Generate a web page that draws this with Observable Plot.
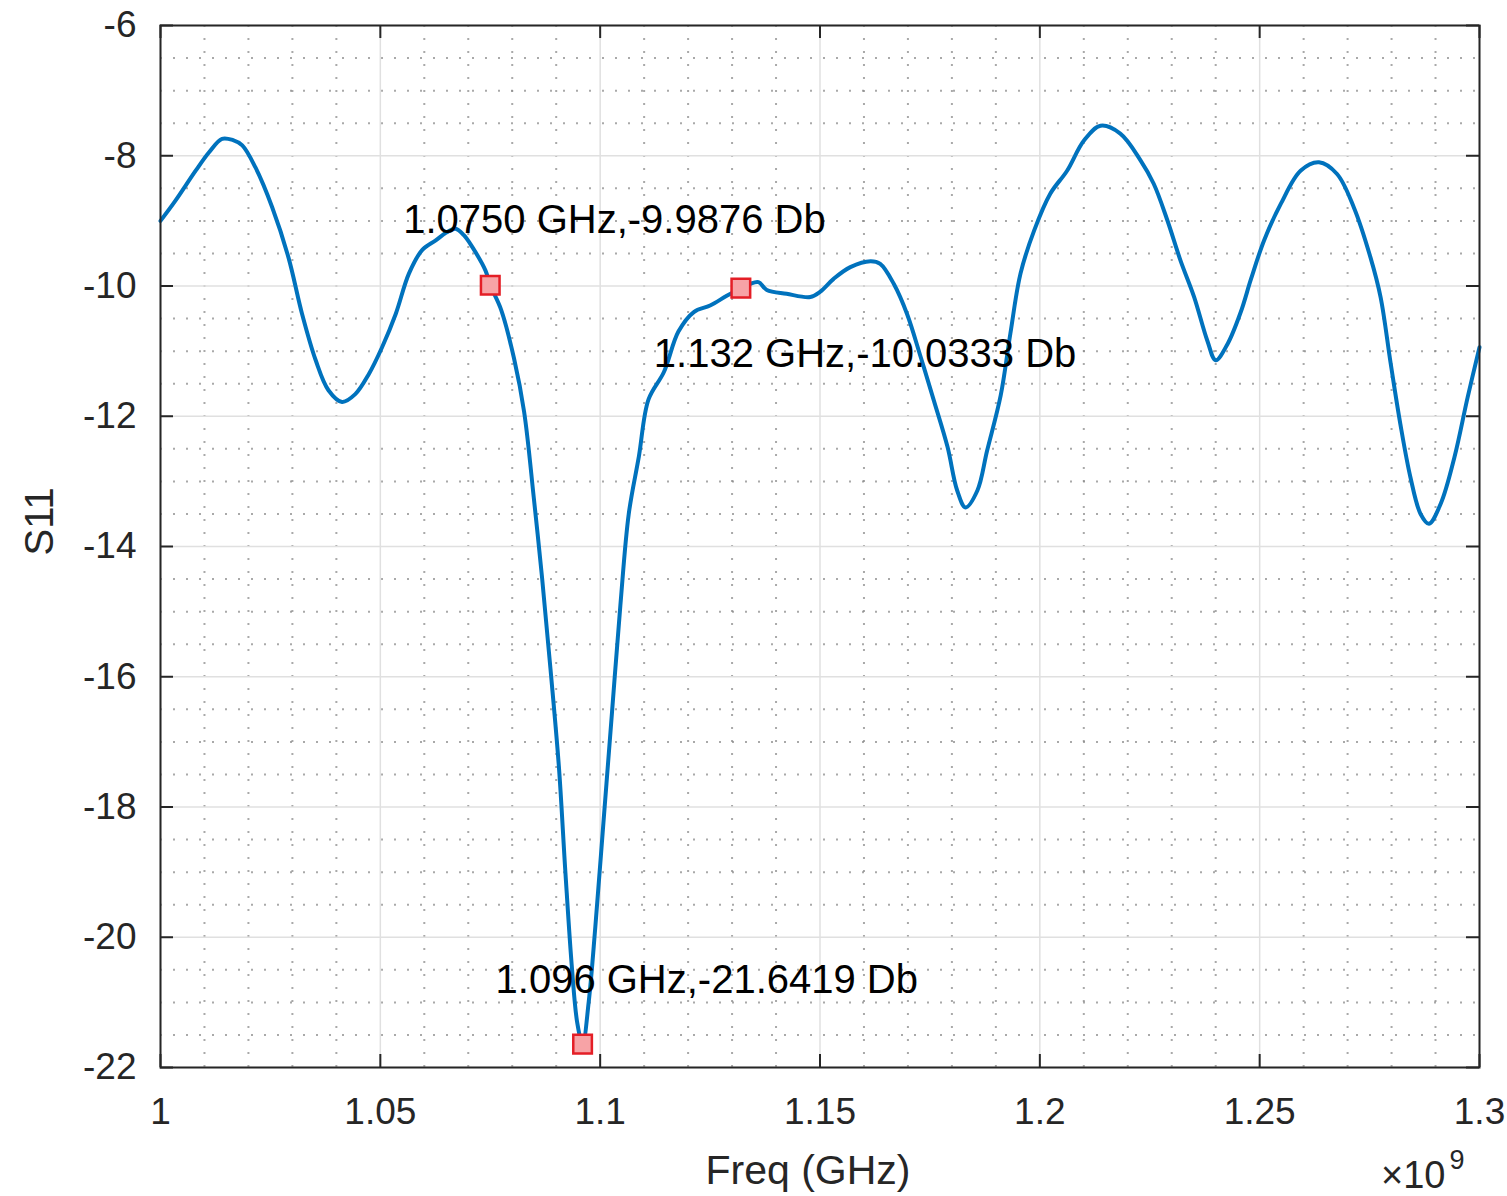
<!DOCTYPE html>
<html><head><meta charset="utf-8">
<script src="https://cdn.jsdelivr.net/npm/d3@7"></script>
<script src="https://cdn.jsdelivr.net/npm/@observablehq/plot@0.6"></script>
<style>body{margin:0;background:#fff} #chart svg{display:block}</style>
</head><body><div id="chart"></div>
<script>
const freqGHz = [1.000,1.0034,1.008,1.011,1.014,1.0165,1.0186,1.0216,1.0254,1.0291,1.0322,1.0353,1.0382,1.0413,1.0443,1.0474,1.0504,1.0535,1.0565,1.0595,1.0626,1.0650,1.0671,1.0690,1.0709,1.0739,1.0750,1.0775,1.0804,1.0827,1.0849,1.0868,1.0887,1.0906,1.0921,1.0936,1.0948,1.0960,1.0974,1.0989,1.1008,1.1027,1.1046,1.1065,1.1088,1.1110,1.1145,1.1178,1.1213,1.1250,1.1288,1.1320,1.1340,1.1360,1.1379,1.1424,1.1478,1.1500,1.1531,1.1569,1.1615,1.1637,1.1668,1.1698,1.1729,1.1759,1.1790,1.1812,1.1831,1.1858,1.1880,1.1911,1.1933,1.1956,1.1987,1.2024,1.2062,1.2100,1.2138,1.2183,1.2229,1.2259,1.2290,1.2320,1.2351,1.2381,1.2400,1.2427,1.2457,1.2480,1.2510,1.2548,1.2593,1.2635,1.2676,1.2714,1.2752,1.2775,1.2798,1.2820,1.2843,1.2866,1.2885,1.2912,1.2943,1.2973,1.3000];
const s11dB = [-9.00,-8.69,-8.23,-7.95,-7.74,-7.76,-7.84,-8.18,-8.79,-9.56,-10.43,-11.14,-11.60,-11.78,-11.66,-11.35,-10.94,-10.43,-9.81,-9.45,-9.30,-9.18,-9.12,-9.22,-9.40,-9.76,-9.9876,-10.37,-11.11,-11.93,-13.25,-14.49,-15.88,-17.37,-19.01,-20.49,-21.32,-21.6419,-20.99,-19.84,-18.19,-16.54,-14.90,-13.50,-12.62,-11.74,-11.32,-10.70,-10.40,-10.30,-10.15,-10.0333,-9.97,-9.94,-10.06,-10.12,-10.17,-10.09,-9.89,-9.71,-9.62,-9.66,-9.97,-10.43,-11.09,-11.76,-12.47,-13.14,-13.40,-13.14,-12.53,-11.68,-10.73,-9.81,-9.15,-8.58,-8.23,-7.77,-7.54,-7.66,-8.07,-8.43,-8.99,-9.61,-10.17,-10.84,-11.14,-10.89,-10.40,-9.90,-9.30,-8.74,-8.23,-8.10,-8.28,-8.79,-9.56,-10.17,-11.19,-12.12,-12.94,-13.50,-13.65,-13.34,-12.63,-11.71,-10.94];

const markerFreq = [1.075, 1.096, 1.132];
const markerS11 = [-9.9876, -21.6419, -10.0333];
const labelText = ["1.0750 GHz,-9.9876 Db", "1.096 GHz,-21.6419 Db", "1.132 GHz,-10.0333 Db"];
const labelFreq = [1.0552, 1.0762, 1.1122];
const labelS11 = [-9.19, -20.85, -11.25];

const xTicks = [1, 1.05, 1.1, 1.15, 1.2, 1.25, 1.3];
const xTickLabels = ["1", "1.05", "1.1", "1.15", "1.2", "1.25", "1.3"];
const yTicks = [-22, -20, -18, -16, -14, -12, -10, -8, -6];
const yTickLabels = ["-22", "-20", "-18", "-16", "-14", "-12", "-10", "-8", "-6"];
const xLabel = "Freq (GHz)";
const yLabel = "S11";
const exponentBase = "×10";
const exponent = "9";

const W = 1507, H = 1196, mL = 160, mR = 28, mT = 25, mB = 129;
const frameW = W - mL - mR, frameH = H - mT - mB;
const tickLen = 13;
const xMinor = d3.range(0, 31).map(i => 1 + i * 0.01).filter((v, i) => i % 5 !== 0);
const yMinor = d3.range(0, 33).map(i => -22 + i * 0.5).filter((v, i) => i % 4 !== 0);

const curve = freqGHz.map((f, i) => ({f, v: s11dB[i]}));
const markers = markerFreq.map((f, i) => ({f, v: markerS11[i]}));
const labels = labelText.map((t, i) => ({t, f: labelFreq[i], v: labelS11[i]}));
const font = "'Liberation Sans', Arial, Helvetica, sans-serif";
const axisColor = "#262626";
const minorStyle = {stroke: "#8c8c8c", strokeOpacity: 0.75, strokeWidth: 2, strokeDasharray: "2,11"};

const chart = Plot.plot({
  width: W, height: H,
  marginLeft: mL, marginRight: mR, marginTop: mT, marginBottom: mB,
  x: {domain: [1, 1.3]},
  y: {domain: [-22, -6]},
  style: {fontFamily: font, background: "white"},
  marks: [
    Plot.ruleX(xMinor, minorStyle),
    Plot.ruleY(yMinor, minorStyle),
    Plot.ruleX(xTicks, {stroke: "#e0e0e0", strokeWidth: 1.5}),
    Plot.ruleY(yTicks, {stroke: "#e0e0e0", strokeWidth: 1.5}),
    Plot.line(curve, {x: "f", y: "v", stroke: "#0072BD", strokeWidth: 4, curve: "catmull-rom"}),
    Plot.dot(markers, {x: "f", y: "v", symbol: "square", r: 10.5, fill: "#f7a3a6", stroke: "#e41e26", strokeWidth: 2.5}),
    Plot.text(labels, {x: "f", y: "v", text: "t", textAnchor: "start", lineAnchor: "bottom", fontSize: 40, fill: "#000"}),
    Plot.frame({stroke: axisColor, strokeWidth: 2}),
    Plot.tickX(xTicks, {x: d => d, insetTop: frameH - tickLen, stroke: axisColor, strokeWidth: 2}),
    Plot.tickX(xTicks, {x: d => d, insetBottom: frameH - tickLen, stroke: axisColor, strokeWidth: 2}),
    Plot.tickY(yTicks, {y: d => d, insetRight: frameW - tickLen, stroke: axisColor, strokeWidth: 2}),
    Plot.tickY(yTicks, {y: d => d, insetLeft: frameW - tickLen, stroke: axisColor, strokeWidth: 2}),
    Plot.axisX({ticks: xTicks, tickFormat: d => xTickLabels[xTicks.indexOf(d)], tickSize: 0, tickPadding: 30, fontSize: 37, color: axisColor, label: null}),
    Plot.axisY({ticks: yTicks, tickFormat: d => yTickLabels[yTicks.indexOf(d)], tickSize: 0, tickPadding: 24, fontSize: 37, color: axisColor, label: null}),
    Plot.text([xLabel], {frameAnchor: "bottom", text: d => d, dy: 116, dx: -12, lineAnchor: "bottom", fontSize: 41, fill: axisColor}),
    Plot.text([yLabel], {frameAnchor: "left", text: d => d, dx: -120, dy: 9, rotate: -90, lineAnchor: "middle", fontSize: 40, fill: axisColor}),
    Plot.text([exponentBase], {frameAnchor: "bottom-right", text: d => d, dx: -34, dy: 120, textAnchor: "end", lineAnchor: "bottom", fontSize: 38, fill: axisColor}),
    Plot.text([exponent], {frameAnchor: "bottom-right", text: d => d, dx: -30, dy: 101, textAnchor: "start", lineAnchor: "bottom", fontSize: 27, fill: axisColor})
  ]
});
document.getElementById("chart").appendChild(chart);
</script>
</body></html>
